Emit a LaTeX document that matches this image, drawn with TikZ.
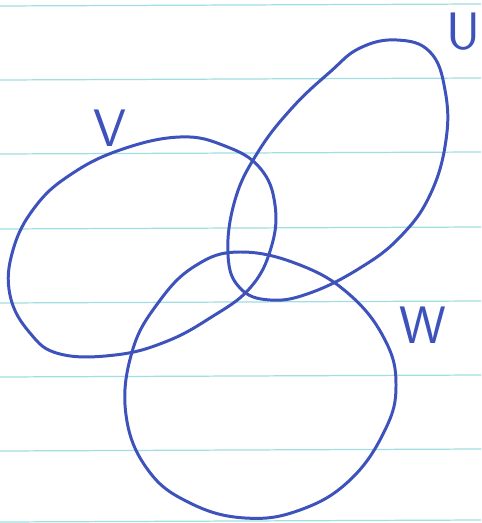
\documentclass[tikz,border=0pt]{standalone}
\usepackage{tikz}
\definecolor{penBlue}{RGB}{62,82,188}
\definecolor{ruleCyan}{RGB}{160,222,226}

\begin{document}
\begin{tikzpicture}[x=0.02cm, y=-0.02cm,
    rule/.style={draw=ruleCyan, line width=0.7pt},
    pen/.style={draw=penBlue, line width=1.7pt, line join=round, line cap=round},
    setname/.style={text=penBlue, font=\fontsize{30}{30}\selectfont\sffamily, inner sep=0pt}
  ]
  \useasboundingbox (0,0) rectangle (481,523);
  \fill[white] (0,0) rectangle (481,523);

  % ruled paper
  \foreach \y in {5,79,153,228,302,376,450,521}
    \draw[rule] (0,\y+1) -- (481,\y-1);

  % the three sets
  \draw[pen] plot[smooth cycle, tension=0.7] coordinates {
    (360,48) (397,40) (430,52) (445,90) (446,140) (430,195)
    (400,237) (360,268) (310,293) (270,300) (240,288) (228,255)
    (235,200) (258,152) (292,108) (330,72)};
  \draw[pen] plot[smooth cycle, tension=0.7] coordinates {
    (180,137) (225,146) (260,168) (275,205) (271,248)
    (250,288) (210,318) (165,342) (115,355) (60,354) (30,333)
    (10,295) (13,250) (35,207) (70,175) (120,150)};
  \draw[pen] plot[smooth cycle, tension=0.7] coordinates {
    (240,252) (300,265) (350,295) (385,340) (396,385)
    (385,430) (350,480) (300,510) (245,518) (190,503) (148,470)
    (126,415) (132,352) (158,303) (195,266)};

  \node[setname] (setU) at (463,32)  {U};
  \node[setname] (setV) at (110,128) {V};
  \node[setname] (setW) at (423,325) {W};
\end{tikzpicture}
\end{document}
